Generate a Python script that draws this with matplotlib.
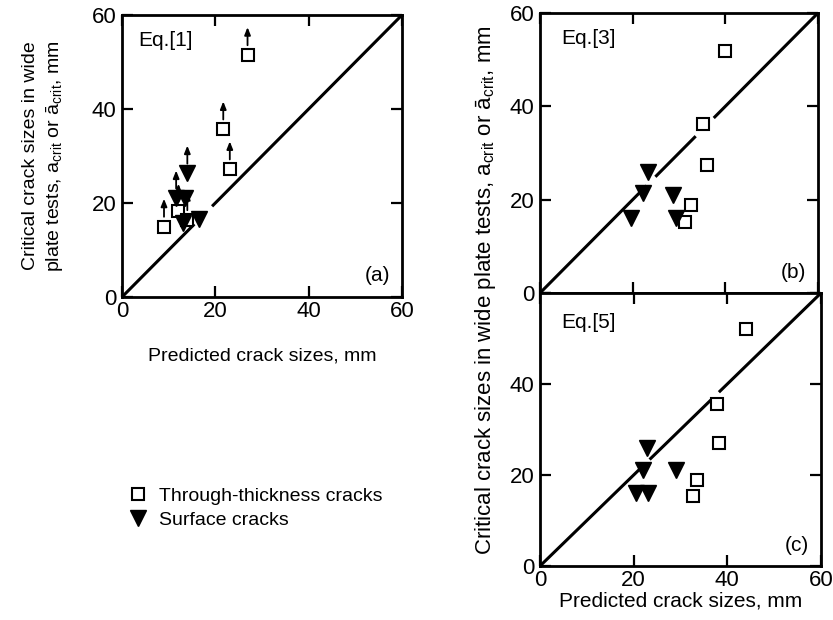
import matplotlib
matplotlib.use("Agg")
import matplotlib.pyplot as plt
from matplotlib.lines import Line2D
from matplotlib.transforms import offset_copy

plt.rcParams['font.family'] = ['Liberation Sans', 'DejaVu Sans']
plt.rcParams['mathtext.fontset'] = 'custom'
plt.rcParams['mathtext.rm'] = 'Liberation Sans'
plt.rcParams['mathtext.it'] = 'Liberation Sans'

# ---- data ----
# Panel (a) Eq.[1]
a_sq_x = [9.0, 12.1, 14.0, 21.7, 23.1, 26.9]
a_sq_y = [15.0, 18.2, 16.4, 35.7, 27.2, 51.5]
a_sq_arrow = [True, True, True, True, True, True]
a_tr_x = [14.0, 11.6, 13.5, 13.0, 16.6]
a_tr_y = [26.3, 21.0, 21.0, 15.7, 16.7]
a_tr_arrow = [True, True, False, False, False]
a_line_segments = [(0, 15.5), (19.3, 60)]

# Panel (b) Eq.[3]
b_sq_x = [39.9, 35.2, 36.0, 32.5, 31.3]
b_sq_y = [51.9, 36.2, 27.4, 18.9, 15.3]
b_tr_x = [23.3, 22.2, 28.7, 19.7, 29.4]
b_tr_y = [26.0, 21.4, 21.0, 16.0, 16.0]
b_line_segments = [(0, 23.0), (24.9, 33.6), (37.5, 60)]

# Panel (c) Eq.[5]
c_sq_x = [44.0, 37.7, 38.3, 33.5, 32.6]
c_sq_y = [52.0, 35.5, 27.0, 18.9, 15.4]
c_tr_x = [22.8, 22.0, 29.1, 20.4, 23.0]
c_tr_y = [25.9, 21.1, 21.1, 16.0, 16.0]
c_line_segments = [(0, 21.3), (23.4, 36.5), (38.2, 60)]

ticks = [0, 20, 40, 60]
xlabel = "Predicted crack sizes, mm"
ylabel_a = "Critical crack sizes in wide\nplate tests, a$_{\\rm crit}$ or ā$_{\\rm crit}$, mm"
ylabel_bc = "Critical crack sizes in wide plate tests, a$_{\\rm crit}$ or ā$_{\\rm crit}$, mm"
legend_labels = ["Through-thickness cracks", "Surface cracks"]

W, H = 833, 620
fig = plt.figure(figsize=(W / 100, H / 100), dpi=100)

def px_axes(l, t, r, b):
    return fig.add_axes([l / W, 1 - b / H, (r - l) / W, (b - t) / H])

ax_a = px_axes(122, 15, 402, 297)
ax_b = px_axes(540, 13, 818, 293)
ax_c = px_axes(540, 293, 821, 566)

LW = 2.0
SQ = dict(marker='s', ms=9, mfc='white', mec='black', mew=1.5, ls='none', zorder=4)
TR = dict(marker='v', ms=12, mfc='black', mec='black', ls='none', zorder=5)

def style(ax, xlab=True, ylab_ticks=(0, 20, 40, 60)):
    ax.set_xlim(0, 60)
    ax.set_ylim(0, 60)
    for s in ax.spines.values():
        s.set_linewidth(LW)
    ax.set_xticks(ticks)
    ax.set_yticks(ticks)
    ax.tick_params(direction='in', length=8, width=1.6, top=True, right=True,
                   labelsize=16)
    ax.tick_params(axis='x', pad=3)
    ax.tick_params(axis='y', pad=4)
    if not xlab:
        ax.set_xticklabels([])
    ax.set_yticklabels([str(t) if t in ylab_ticks else '' for t in ticks])

def diag(ax, segs):
    for s0, s1 in segs:
        ax.plot([s0, s1], [s0, s1], color='black', lw=2.2, solid_capstyle='butt', zorder=3)

def arrows(ax, xs, ys, flags):
    t_head = offset_copy(ax.transData, fig=fig, x=0, y=20, units='points')
    t_tail = offset_copy(ax.transData, fig=fig, x=0, y=7, units='points')
    for x, y, f in zip(xs, ys, flags):
        if f:
            ax.annotate('', xy=(x, y), xycoords=t_head, xytext=(x, y), textcoords=t_tail,
                        arrowprops=dict(arrowstyle='-|>,head_length=0.45,head_width=0.18',
                                        color='black', lw=1.3, shrinkA=0, shrinkB=0),
                        zorder=6, annotation_clip=False)

# Panel (a)
style(ax_a)
diag(ax_a, a_line_segments)
ax_a.plot(a_sq_x, a_sq_y, **SQ)
ax_a.plot(a_tr_x, a_tr_y, **TR)
arrows(ax_a, a_sq_x, a_sq_y, a_sq_arrow)
arrows(ax_a, a_tr_x, a_tr_y, a_tr_arrow)
ax_a.text(3.5, 54.5, "Eq.[1]", fontsize=15, va='center', ha='left')
ax_a.text(57.5, 4.5, "(a)", fontsize=15, va='center', ha='right')
ax_a.set_xlabel(xlabel, fontsize=14, labelpad=18)
ax_a.set_ylabel(ylabel_a, fontsize=14, labelpad=19, linespacing=1.35)

# Panel (b)
style(ax_b, xlab=False)
diag(ax_b, b_line_segments)
ax_b.plot(b_sq_x, b_sq_y, **SQ)
ax_b.plot(b_tr_x, b_tr_y, **TR)
ax_b.text(4.5, 54.5, "Eq.[3]", fontsize=15, va='center', ha='left')
ax_b.text(57.5, 4.5, "(b)", fontsize=15, va='center', ha='right')

# Panel (c)
style(ax_c, ylab_ticks=(0, 20, 40))
diag(ax_c, c_line_segments)
ax_c.plot(c_sq_x, c_sq_y, **SQ)
ax_c.plot(c_tr_x, c_tr_y, **TR)
ax_c.text(4.5, 53.5, "Eq.[5]", fontsize=15, va='center', ha='left')
ax_c.text(57.5, 4.5, "(c)", fontsize=15, va='center', ha='right')
ax_c.set_xlabel(xlabel, fontsize=15, labelpad=0)

fig.text(485 / W, 1 - 290 / H, ylabel_bc, rotation=90, fontsize=16,
         ha='center', va='center')

# Legend
handles = [Line2D([], [], **SQ), Line2D([], [], **TR)]
handles[0].set_markersize(8)
fig.legend(handles, legend_labels, loc='center left',
           bbox_to_anchor=(128 / W, 1 - 508 / H), frameon=False, fontsize=14,
           handlelength=1.0, handletextpad=0.6, labelspacing=0.3,
           borderpad=0, borderaxespad=0)

fig.savefig("out.png", dpi=100)
